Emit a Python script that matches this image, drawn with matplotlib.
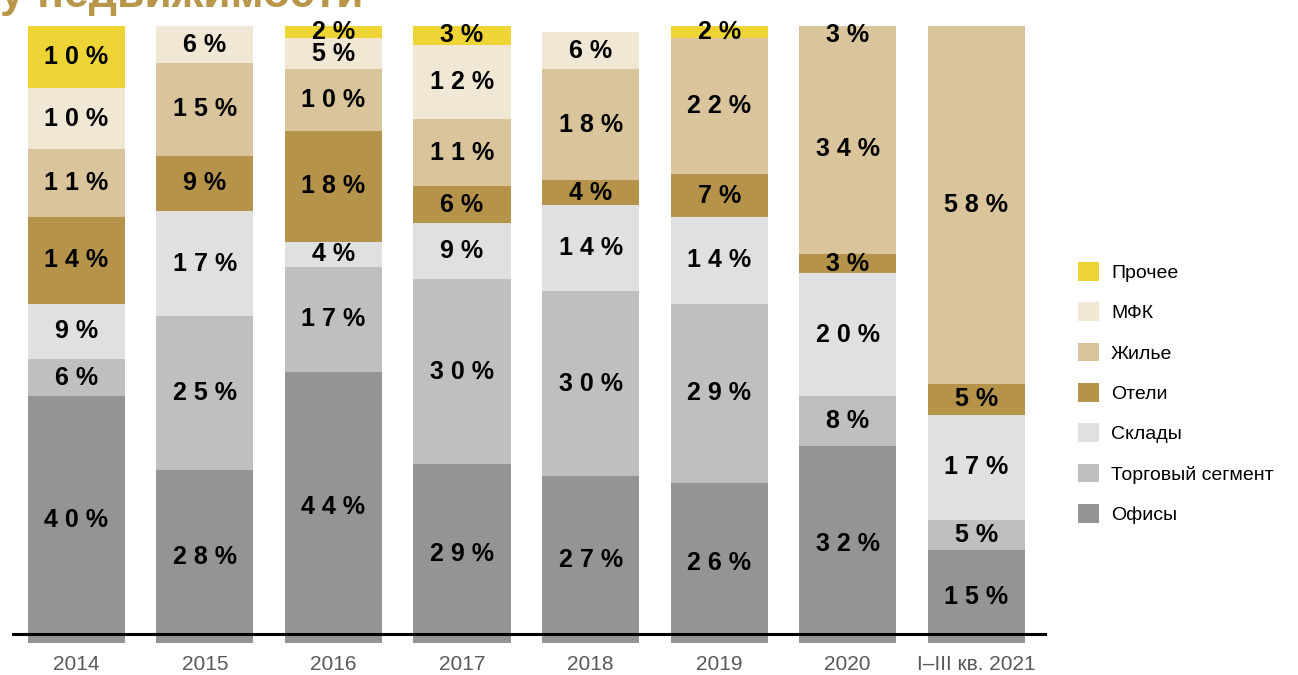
import numpy as np
import matplotlib
matplotlib.use("Agg")
from matplotlib import pyplot as plt
from matplotlib.patches import Patch

years = ["2014", "2015", "2016", "2017", "2018", "2019", "2020", "I–III кв. 2021"]

# segments from bottom to top
segments = ["Офисы", "Торговый сегмент", "Склады", "Отели", "Жилье", "МФК", "Прочее"]
offices = [40, 28, 44, 29, 27, 26, 32, 15]
retail = [6, 25, 17, 30, 30, 29, 8, 5]
warehouses = [9, 17, 4, 9, 14, 14, 20, 17]
hotels = [14, 9, 18, 6, 4, 7, 3, 5]
housing = [11, 15, 10, 11, 18, 22, 34, 58]
mfk = [10, 6, 5, 12, 6, 0, 3, 0]
other = [10, 0, 2, 3, 0, 2, 0, 0]
values = [offices, retail, warehouses, hotels, housing, mfk, other]

colors = ["#949494", "#bfbfbf", "#e0e0e0", "#b5934a", "#d9c49b", "#f0e7d5", "#eed535"]

plt.rcParams['font.family'] = ['Liberation Sans', 'DejaVu Sans']

fig = plt.figure(figsize=(12.98, 6.75), dpi=100)
ax = fig.add_axes([12 / 1298, 32 / 675, 1035 / 1298, 633 / 675])

x = np.arange(len(years))
bottom = np.zeros(len(years))
for name, vals, col in zip(segments, values, colors):
    vals = np.array(vals, dtype=float)
    bars = ax.bar(x, vals, 0.755, bottom=bottom, color=col, label=name, zorder=2)
    for i, (b, v) in enumerate(zip(bars, vals)):
        if v <= 0:
            continue
        # in 2020 the top 3 % block is drawn in the housing colour
        if name == "МФК" and years[i] == "2020":
            b.set_facecolor(colors[4])
        txt = " ".join(f"{int(v)}%")
        ax.text(b.get_x() + b.get_width() / 2, bottom[i] + v / 2, txt,
                ha="center", va="center", fontsize=18, fontweight="bold",
                color="black", zorder=3)
    bottom += vals

ax.set_xlim(-0.5, 7.55)
ax.set_ylim(0, 102.6)
ax.axhline(1.5, color="black", lw=2.2, zorder=4)
for s in ax.spines.values():
    s.set_visible(False)
ax.set_yticks([])
ax.set_xticks(x, years)
ax.tick_params(axis="x", length=0, pad=9, labelsize=15, labelcolor="#595959")

handles = [Patch(facecolor=c, edgecolor="none") for c in colors][::-1]
labels = segments[::-1]
fig.legend(handles, labels, loc="upper left", bbox_to_anchor=(1078 / 1298, 1 - 262 / 675),
           frameon=False, fontsize=14, handlelength=1.1, handleheight=1.1,
           handletextpad=0.6, labelspacing=1.05, borderpad=0, borderaxespad=0)

fig.text(0.0, 1 - 7 / 675, "у недвижимости", va="baseline", ha="left",
         fontsize=32, fontweight="bold", color="#b8974a")

fig.savefig("out.png", dpi=100)
